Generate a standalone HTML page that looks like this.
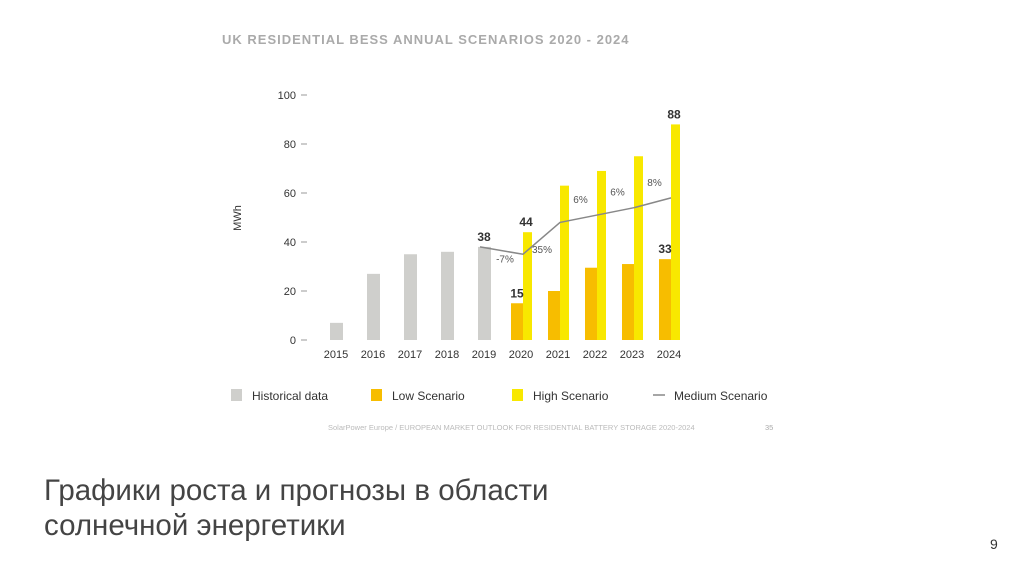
<!DOCTYPE html>
<html><head><meta charset="utf-8"><style>
body{margin:0;width:1024px;height:574px;background:#fff;overflow:hidden;font-family:"Liberation Sans",sans-serif;position:relative}
.t{position:absolute}
</style></head><body>
<div class="t" style="left:222px;top:32px;font-size:13px;letter-spacing:1px;color:#aaa;font-weight:bold;white-space:nowrap">UK RESIDENTIAL BESS ANNUAL SCENARIOS 2020 - 2024</div>
<svg class="t" style="left:0;top:0" width="1024" height="574" id="c"></svg>
<div class="t" style="left:44px;top:473px;font-size:29.5px;line-height:35px;color:#444;white-space:nowrap">Графики роста и прогнозы в области<br>солнечной энергетики</div>
<div class="t" style="left:990px;top:536px;font-size:14px;color:#333">9</div>
<script>
const years=["2015","2016","2017","2018","2019","2020","2021","2022","2023","2024"];
const hist=[7,27,35,36,38];
const low=[15,20,29.5,31,33];
const high=[44,63,69,75,88];
const medium=[38,35,48,51,54,58];
const growth=["-7%","35%","6%","6%","8%"];
const yTicks=[0,20,40,60,80,100];
const svg=document.getElementById('c');const NS='http://www.w3.org/2000/svg';
const y=v=>340-v*2.45;const x=i=>336+i*37;
function el(t,a,txt){const e=document.createElementNS(NS,t);for(const k in a)e.setAttribute(k,a[k]);if(txt!=null)e.textContent=txt;svg.appendChild(e);return e;}
yTicks.forEach(v=>{const e=el('text',{x:296,y:y(v)+4,'text-anchor':'end','font-size':11,fill:'#333'},v);

el('line',{x1:301,x2:307,y1:y(v),y2:y(v),stroke:'#999'});});
const yt=el('text',{transform:'translate(241,218) rotate(-90)','text-anchor':'middle','font-size':11,fill:'#333'},'MWh');

years.forEach((s,i)=>{const e=el('text',{x:x(i),y:358,'text-anchor':'middle','font-size':11,fill:'#333'},s);
});
hist.forEach((v,i)=>{const r=el('rect',{x:x(i)-6,y:y(v),width:13,height:y(0)-y(v),fill:'#cfcfcc'});
});
high.forEach((v,k)=>{const i=k+5;const r=el('rect',{x:x(i)+2,y:y(v),width:9,height:y(0)-y(v),fill:'#f8e800'});
});
low.forEach((v,k)=>{const i=k+5;const r=el('rect',{x:x(i)-10,y:y(v),width:12,height:y(0)-y(v),fill:'#f7bd00'});
});
const pts=medium.map((v,k)=>(x(k+4)+(k==0?-4:2))+','+y(v)).join(' ');
const pl=el('polyline',{points:pts,fill:'none',stroke:'#888','stroke-width':1.5});

growth.forEach((g,k)=>{const i=k+5;const xx=k==0?x(4)+21:(k==1?x(5)+21:(x(i-1)+x(i))/2+4);const yy=k==0?y(35)+8:(k==1?y(36)+1:y(medium[k+1])-12);
const e=el('text',{x:xx,y:yy,'text-anchor':'middle','font-size':10,fill:'#555'},g);
});
[[4,hist[4]],[5,high[0]],[5,low[0]],[9,high[4]],[9,low[4]]].forEach(([i,v])=>{const e=el('text',{x:i==4?x(i):x(i)-(v<40?4:-5),y:y(v)-6,'text-anchor':'middle','font-size':12,'font-weight':'bold',fill:'#333'},v);
});
const leg=[['Historical data','#cfcfcc',230],['Low Scenario','#f7bd00',370],['High Scenario','#f8e800',511],['Medium Scenario',null,652]];
leg.forEach(([n,c,lx])=>{if(c)el('rect',{x:lx+1,y:389,width:11,height:12,fill:c});else el('line',{x1:lx+1,x2:lx+13,y1:395,y2:395,stroke:'#888','stroke-width':1.5});
const e=el('text',{x:lx+22,y:400,'font-size':12,fill:'#333'},n);});
const src=el('text',{x:328,y:430,'font-size':7.5,fill:'#bbb'},'SolarPower Europe / EUROPEAN MARKET OUTLOOK FOR RESIDENTIAL BATTERY STORAGE 2020-2024');

el('text',{x:765,y:430,'font-size':7.5,fill:'#aaa'},'35');
</script>
</body></html>
